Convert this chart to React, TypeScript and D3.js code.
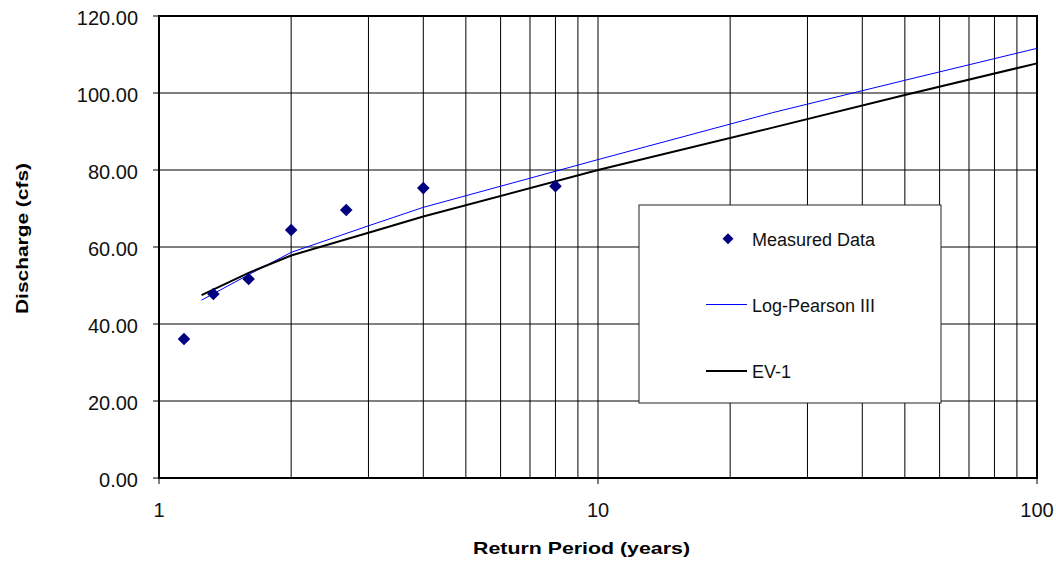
import React from "react";
import * as d3 from "d3";

// measured annual peaks, plotted at their return periods
const measuredT = [1.14, 1.33, 1.6, 2.0, 2.67, 4.0, 8.0];
const measuredQ = [36.1, 47.8, 51.7, 64.4, 69.6, 75.3, 75.8];

// fitted frequency curves (return period -> discharge)
const curveT = [1.25, 1.6, 2, 3, 4, 10, 25, 50, 100];
const logPearsonQ = [46.2, 52.8, 58.6, 65.5, 70.3, 82.7, 94.9, 103.3, 111.6];
const ev1Q = [47.5, 53.3, 57.8, 63.7, 67.9, 80.0, 91.0, 99.5, 107.7];

const yTicks = [0, 20, 40, 60, 80, 100, 120];
const xTicks = [1, 10, 100];

const width = 1056, height = 568;
const left = 159, right = 1037, top = 16, bottom = 478;
const font = "'Liberation Sans', Arial, sans-serif";

const diamond = (cx: number, cy: number, r: number) =>
  `M${cx},${cy - r}L${cx + r},${cy}L${cx},${cy + r}L${cx - r},${cy}Z`;

export default function App() {
  const x = d3.scaleLog().domain([1, 100]).range([left, right]);
  const y = d3.scaleLinear().domain([0, 120]).range([bottom, top]);

  const gridX: number[] = [];
  for (const dec of [1, 10]) for (let k = 2; k <= 9; k++) gridX.push(dec * k);
  gridX.push(10);

  const line = d3.line<[number, number]>().x(d => x(d[0])).y(d => y(d[1]));
  const lpPath = line(curveT.map((t, i) => [t, logPearsonQ[i]]) as [number, number][]) || "";
  const evPath = line(curveT.map((t, i) => [t, ev1Q[i]]) as [number, number][]) || "";

  const legX = 639, legY = 205, legW = 302, legH = 198;

  return (
    <svg width={width} height={height} style={{ position: "absolute", left: 0, top: 0, background: "#fff" }}
      fontFamily={font}>
      {/* gridlines */}
      {gridX.map(t => (
        <line key={"gx" + t} x1={x(t)} x2={x(t)} y1={top} y2={bottom} stroke="#000" strokeWidth={1} />
      ))}
      {yTicks.slice(1, -1).map(v => (
        <line key={"gy" + v} x1={left} x2={right} y1={y(v)} y2={y(v)} stroke="#000" strokeWidth={1} />
      ))}

      {/* frame */}
      <rect x={left} y={top} width={right - left} height={bottom - top} fill="none" stroke="#000" strokeWidth={2} />

      {/* y axis ticks and labels */}
      {yTicks.map(v => (
        <g key={"yt" + v}>
          <line x1={left - 6} x2={left} y1={y(v)} y2={y(v)} stroke="#000" strokeWidth={1} />
          <text x={138} y={y(v) + 9} textAnchor="end" fontSize={20} fill="#111">
            {d3.format(".2f")(v)}
          </text>
        </g>
      ))}

      {/* x axis ticks and labels */}
      {xTicks.map(t => (
        <g key={"xt" + t}>
          <line x1={x(t)} x2={x(t)} y1={bottom} y2={bottom + 6} stroke="#000" strokeWidth={1} />
          <text x={x(t)} y={517} textAnchor="middle" fontSize={20} fill="#111">{t}</text>
        </g>
      ))}

      {/* axis titles */}
      <text x={581.5} y={554} textAnchor="middle" fontSize={17} fontWeight="bold" fill="#000"
        textLength={217} lengthAdjust="spacingAndGlyphs">
        Return Period (years)
      </text>
      <text transform="translate(27.5,238.5) rotate(-90)" textAnchor="middle" fontSize={17}
        fontWeight="bold" fill="#000" textLength={151} lengthAdjust="spacingAndGlyphs">
        Discharge (cfs)
      </text>

      {/* fitted curves */}
      <path d={lpPath} fill="none" stroke="#0000ff" strokeWidth={1} />
      <path d={evPath} fill="none" stroke="#000" strokeWidth={2} />

      {/* measured data */}
      {measuredT.map((t, i) => (
        <path key={"m" + i} d={diamond(x(t), y(measuredQ[i]), 6.3)} fill="#000080" />
      ))}

      {/* legend */}
      <rect x={legX} y={legY} width={legW} height={legH} fill="#fff" stroke="#222" strokeWidth={1} />
      <path d={diamond(728, 238.7, 5.5)} fill="#000080" />
      <text x={752} y={246} fontSize={18} fill="#111">Measured Data</text>
      <line x1={706} x2={747} y1={304.5} y2={304.5} stroke="#0000ff" strokeWidth={1} />
      <text x={752} y={311.7} fontSize={18} fill="#111">Log-Pearson III</text>
      <line x1={706} x2={747} y1={371} y2={371} stroke="#000" strokeWidth={2} />
      <text x={752} y={377.7} fontSize={18} fill="#111">EV-1</text>
    </svg>
  );
}
